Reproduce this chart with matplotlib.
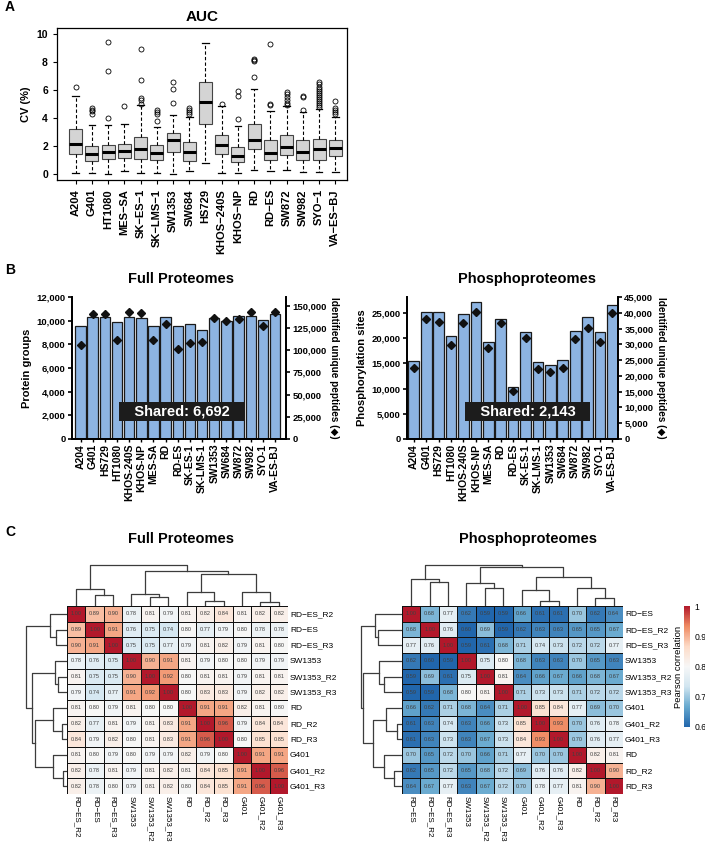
import matplotlib
matplotlib.use("Agg")
import matplotlib.pyplot as plt
import numpy as np
from matplotlib.colors import LinearSegmentedColormap
from matplotlib.ticker import FuncFormatter

plt.rcParams["font.family"] = ["Liberation Sans", "DejaVu Sans"]

W, H = 705, 842

# ---------------- panel A: CV of AUC per cell line (box stats)
auc_lines = ["A204", "G401", "HT1080", "MES−SA", "SK−ES−1", "SK−LMS−1", "SW1353",
             "SW684", "HS729", "KHOS−240S", "KHOS−NP", "RD", "RD−ES", "SW872",
             "SW982", "SYO−1", "VA−ES−BJ"]
auc_q1 = [1.45, 0.9, 1.05, 1.15, 1.1, 1.0, 1.55, 0.95, 3.6, 1.4, 0.85, 1.75, 1.0, 1.35, 1.0, 1.0, 1.25]
auc_med = [2.15, 1.45, 1.55, 1.65, 1.75, 1.5, 2.45, 1.6, 5.15, 2.1, 1.3, 2.45, 1.5, 1.95, 1.6, 1.8, 1.85]
auc_q3 = [3.2, 2.0, 2.1, 2.15, 2.65, 2.1, 2.9, 2.25, 6.55, 2.8, 1.95, 3.55, 2.45, 2.8, 2.4, 2.5, 2.45]
auc_lo = [0.1, 0.1, 0.0, 0.2, 0.1, 0.1, 0.0, 0.2, 0.75, 0.1, 0.1, 0.3, 0.2, 0.3, 0.15, 0.15, 0.15]
auc_hi = [5.6, 3.5, 3.5, 3.6, 4.95, 3.35, 4.2, 4.1, 9.35, 4.85, 3.45, 6.05, 4.5, 4.85, 4.4, 4.65, 4.1]
auc_fliers = [
    [6.2],
    [4.3, 4.5, 4.6, 4.7],
    [4.0, 7.35, 9.45],
    [4.85],
    [5.0, 5.3, 5.45, 6.7, 8.9],
    [3.75, 4.3, 4.45, 4.55],
    [5.1, 6.05, 6.55],
    [4.3, 4.45, 4.6, 4.7],
    [],
    [5.0],
    [3.9, 5.55, 5.9],
    [6.9, 8.05, 8.15, 8.2],
    [4.9, 5.0, 9.3],
    [4.95, 5.1, 5.3, 5.5, 5.7, 5.85],
    [4.6, 5.5, 5.6],
    [4.75, 4.9, 5.05, 5.2, 5.35, 5.5, 5.65, 5.8, 5.95, 6.1, 6.25, 6.4, 6.55],
    [4.25, 4.4, 4.55, 4.7, 5.25],
]

# ---------------- panel B: identifications
ms_lines = ["A204", "G401", "HS729", "HT1080", "KHOS-240S", "KHOS-NP", "MES-SA", "RD",
            "RD-ES", "SK-ES-1", "SK-LMS-1", "SW1353", "SW684", "SW872", "SW982",
            "SYO-1", "VA-ES-BJ"]
full_groups = [9570, 10300, 10300, 9900, 10300, 10250, 9570, 10300, 9540, 9680, 9250,
               10190, 9990, 10390, 10390, 10020, 10530]
full_peptides = [105900, 140600, 140600, 111600, 143600, 141700, 111600, 129300, 101400,
                 108600, 109700, 136100, 133400, 135000, 143600, 127400, 142900]
phos_sites = [15480, 25200, 25070, 20370, 24670, 27100, 19250, 23800, 10300, 21100, 15340,
              14680, 15740, 21430, 24200, 21230, 26590]
phos_peptides = [22600, 37900, 37200, 29900, 36900, 40200, 28800, 36900, 15100, 32100,
                 22300, 21300, 22400, 31600, 35200, 30800, 39800]
full_shared = 6692
phos_shared = 2143

# ---------------- panel C: Pearson correlation matrices (display order)
full_samples = ["RD−ES_R2", "RD−ES", "RD−ES_R3", "SW1353", "SW1353_R2", "SW1353_R3",
                "RD", "RD_R2", "RD_R3", "G401", "G401_R2", "G401_R3"]
full_corr = [
    [1.00, 0.89, 0.90, 0.78, 0.81, 0.79, 0.81, 0.82, 0.84, 0.81, 0.82, 0.82],
    [0.89, 1.00, 0.91, 0.76, 0.75, 0.74, 0.80, 0.77, 0.79, 0.80, 0.78, 0.78],
    [0.90, 0.91, 1.00, 0.75, 0.75, 0.77, 0.79, 0.81, 0.82, 0.79, 0.81, 0.80],
    [0.78, 0.76, 0.75, 1.00, 0.90, 0.91, 0.81, 0.79, 0.80, 0.80, 0.79, 0.79],
    [0.81, 0.75, 0.75, 0.90, 1.00, 0.92, 0.80, 0.81, 0.81, 0.79, 0.81, 0.81],
    [0.79, 0.74, 0.77, 0.91, 0.92, 1.00, 0.80, 0.83, 0.83, 0.79, 0.82, 0.82],
    [0.81, 0.80, 0.79, 0.81, 0.80, 0.80, 1.00, 0.91, 0.91, 0.82, 0.81, 0.80],
    [0.82, 0.77, 0.81, 0.79, 0.81, 0.83, 0.91, 1.00, 0.96, 0.79, 0.84, 0.84],
    [0.84, 0.79, 0.82, 0.80, 0.81, 0.83, 0.91, 0.96, 1.00, 0.80, 0.85, 0.85],
    [0.81, 0.80, 0.79, 0.80, 0.79, 0.79, 0.82, 0.79, 0.80, 1.00, 0.91, 0.91],
    [0.82, 0.78, 0.81, 0.79, 0.81, 0.82, 0.81, 0.84, 0.85, 0.91, 1.00, 0.96],
    [0.82, 0.78, 0.80, 0.79, 0.81, 0.82, 0.80, 0.84, 0.85, 0.91, 0.96, 1.00],
]
# tree as (left, right, merge height); leaves are display positions
full_tree = (((0, (1, 2, 10.8), 16.8),
              ((3, (4, 5, 9.4), 11.8),
               ((6, (7, 8, 5.0), 14.1), (9, (10, 11, 4.0), 14.1), 32.0), 35.3), 41.0))

phos_samples = ["RD−ES", "RD−ES_R2", "RD−ES_R3", "SW1353", "SW1353_R2", "SW1353_R3",
                "G401", "G401_R2", "G401_R3", "RD", "RD_R2", "RD_R3"]
phos_corr = [
    [1.00, 0.68, 0.77, 0.62, 0.59, 0.59, 0.66, 0.61, 0.61, 0.70, 0.62, 0.64],
    [0.68, 1.00, 0.76, 0.60, 0.69, 0.59, 0.62, 0.63, 0.63, 0.65, 0.65, 0.67],
    [0.77, 0.76, 1.00, 0.59, 0.61, 0.68, 0.71, 0.74, 0.73, 0.72, 0.72, 0.77],
    [0.62, 0.60, 0.59, 1.00, 0.75, 0.80, 0.68, 0.63, 0.63, 0.70, 0.65, 0.63],
    [0.59, 0.69, 0.61, 0.75, 1.00, 0.81, 0.64, 0.66, 0.67, 0.66, 0.68, 0.67],
    [0.59, 0.59, 0.68, 0.80, 0.81, 1.00, 0.71, 0.73, 0.73, 0.71, 0.72, 0.72],
    [0.66, 0.62, 0.71, 0.68, 0.64, 0.71, 1.00, 0.85, 0.84, 0.77, 0.69, 0.70],
    [0.61, 0.63, 0.74, 0.63, 0.66, 0.73, 0.85, 1.00, 0.93, 0.70, 0.76, 0.78],
    [0.61, 0.63, 0.73, 0.63, 0.67, 0.73, 0.84, 0.93, 1.00, 0.70, 0.76, 0.77],
    [0.70, 0.65, 0.72, 0.70, 0.66, 0.71, 0.77, 0.70, 0.70, 1.00, 0.82, 0.81],
    [0.62, 0.65, 0.72, 0.65, 0.68, 0.72, 0.69, 0.76, 0.76, 0.82, 1.00, 0.90],
    [0.64, 0.67, 0.77, 0.63, 0.67, 0.72, 0.70, 0.78, 0.77, 0.81, 0.90, 1.00],
]
phos_tree = (((0, (1, 2, 24.2), 26.9),
              ((3, (4, 5, 18.5), 22.9),
               ((6, (7, 8, 5.0), 16.1), (9, (10, 11, 7.7), 17.8), 28.6), 38.6), 41.0))

# RColorBrewer RdBu (7 classes), reversed
corr_cmap = LinearSegmentedColormap.from_list(
    "rdbu7", ["#2166AC", "#67A9CF", "#D1E5F0", "#F7F7F7", "#FDDBC7", "#EF8A62", "#B2182B"])


def rect(x0, y0, x1, y1):
    """pixel box (top-left origin) -> figure fraction rect"""
    return [x0 / W, 1 - y1 / H, (x1 - x0) / W, (y1 - y0) / H]


def dendro_segments(node):
    if isinstance(node, int):
        return node, 0.0, []
    left, right, h = node
    xl, hl, sl = dendro_segments(left)
    xr, hr, sr = dendro_segments(right)
    seg = [(xl, hl), (xl, h), (xr, h), (xr, hr)]
    return (xl + xr) / 2, h, sl + sr + [seg]


def draw_dendro(ax, tree, orient):
    _, top, segs = dendro_segments(tree)
    for seg in segs:
        xs, ys = zip(*seg)
        if orient == "top":
            ax.plot(xs, ys, color="#3c3c3c", lw=0.9)
        else:
            ax.plot(ys, xs, color="#3c3c3c", lw=0.9)
    if orient == "top":
        ax.set_xlim(-0.5, 11.5)
        ax.set_ylim(0, top + 1)
    else:
        ax.set_ylim(11.5, -0.5)
        ax.set_xlim(top + 1, 0)
    ax.axis("off")


def draw_heatmap(ax, corr, samples):
    data = np.array(corr)
    n = len(samples)
    edges = np.arange(n + 1) - 0.5
    mesh = ax.pcolormesh(edges, edges, data, cmap=corr_cmap, vmin=0.6, vmax=1.0,
                         edgecolors="#111111", linewidth=0.7)
    for i in range(n):
        for j in range(n):
            ax.text(j, i, f"{data[i, j]:.2f}", ha="center", va="center",
                    fontsize=4.1, color="#404040")
    ax.set_xlim(-0.5, n - 0.5)
    ax.set_ylim(n - 0.5, -0.5)
    ax.set_xticks(range(n))
    ax.set_xticklabels(samples, rotation=-90, fontsize=5.8)
    ax.set_yticks(range(n))
    ax.set_yticklabels(samples, fontsize=6)
    ax.yaxis.tick_right()
    ax.tick_params(length=0, pad=1.5)
    for s in ax.spines.values():
        s.set_visible(False)
    return mesh


fig = plt.figure(figsize=(W / 100, H / 100), dpi=100)

# ---------------- A
ax = fig.add_axes(rect(57, 28, 347, 180))
stats = []
for i in range(len(auc_lines)):
    stats.append(dict(med=auc_med[i], q1=auc_q1[i], q3=auc_q3[i],
                      whislo=auc_lo[i], whishi=auc_hi[i], fliers=auc_fliers[i]))
ax.bxp(stats, positions=range(1, len(auc_lines) + 1), widths=0.8, patch_artist=True,
       capwidths=0.4,
       boxprops=dict(facecolor="#d4d4d4", edgecolor="#444444", lw=0.8),
       medianprops=dict(color="black", lw=2.2, solid_capstyle="butt"),
       whiskerprops=dict(color="black", ls=(0, (3, 2)), lw=0.8),
       capprops=dict(color="black", lw=0.9),
       flierprops=dict(marker="o", mfc="none", mec="black", ms=3.6, mew=0.6))
ax.set_xlim(-0.15, 17.72)
ax.set_ylim(-0.43, 10.43)
ax.set_yticks([0, 2, 4, 6, 8, 10])
ax.set_xticks(range(1, len(auc_lines) + 1))
ax.set_xticklabels(auc_lines, rotation=90, fontsize=8, fontweight="bold")
for lab in ax.get_yticklabels():
    lab.set_fontsize(7.5)
    lab.set_fontweight("bold")
ax.tick_params(length=3, width=0.8)
ax.set_ylabel("CV (%)", fontsize=8, fontweight="bold", labelpad=4)
for s in ax.spines.values():
    s.set_linewidth(0.9)
fig.text(202 / W, 1 - 17 / H, "AUC", ha="center", va="center", fontsize=11, fontweight="bold")

# ---------------- B
comma = FuncFormatter(lambda v, p: f"{int(v):,}")


def id_panel(box, counts, peptides, ylim, y2lim, yticks, y2ticks, xlim, ylabel, shared, sx, sy):
    ax = fig.add_axes(rect(*box))
    x = np.arange(len(ms_lines))
    ax.bar(x, counts, width=0.86, color="#8db4e2", edgecolor="#1a1a1a", lw=0.9, zorder=2)
    ax.set_xlim(*xlim)
    ax.set_ylim(*ylim)
    ax.set_yticks(yticks)
    ax.yaxis.set_major_formatter(comma)
    ax.set_xticks(x)
    ax.set_xticklabels(ms_lines, rotation=90, fontsize=7.5, fontweight="bold")
    ax.set_ylabel(ylabel, fontsize=8, fontweight="bold", labelpad=3)
    ax2 = ax.twinx()
    ax2.plot(x, peptides, "D", color="#111111", ms=4, zorder=3)
    ax2.set_ylim(*y2lim)
    ax2.set_yticks(y2ticks)
    ax2.yaxis.set_major_formatter(comma)
    ax2.set_ylabel("Identified unique peptides (◆)", rotation=-90, fontsize=7.2,
                   fontweight="bold", labelpad=9)
    for a in (ax, ax2):
        a.spines["top"].set_visible(False)
        for s in ("left", "right", "bottom"):
            a.spines[s].set_linewidth(1.3)
        a.tick_params(axis="y", length=3, width=1.2, labelsize=6.8, pad=1.5)
        for lab in a.get_yticklabels():
            lab.set_fontweight("bold")
    ax.tick_params(axis="x", length=2, width=1, pad=1.5)
    ax.text(sx, sy, f"   Shared: {shared:,}   ", ha="center", va="center", color="white",
            fontsize=10.5, fontweight="bold", zorder=5,
            bbox=dict(facecolor="#1c1c1c", edgecolor="none", boxstyle="square,pad=0.18"))


id_panel((72, 297, 286, 439), full_groups, full_peptides, (0, 12000), (0, 160000),
         range(0, 12001, 2000), range(0, 150001, 25000), (-0.7, 16.9),
         "Protein groups", full_shared, 8.34, 2350)
id_panel((407, 297, 618, 439), phos_sites, phos_peptides, (0, 28125), (0, 45000),
         range(0, 25001, 5000), range(0, 45001, 5000), (-0.55, 16.45),
         "Phosphorylation sites", phos_shared, 9.18, 5490)
fig.text(181 / W, 1 - 279 / H, "Full Proteomes", ha="center", va="center", fontsize=10.5, fontweight="bold")
fig.text(527 / W, 1 - 279 / H, "Phosphoproteomes", ha="center", va="center", fontsize=10.5, fontweight="bold")

# ---------------- C
hm1 = fig.add_axes(rect(67, 606, 288, 794))
draw_heatmap(hm1, full_corr, full_samples)
draw_dendro(fig.add_axes(rect(67, 564, 288, 606)), full_tree, "top")
draw_dendro(fig.add_axes(rect(25, 606, 67, 794)), full_tree, "left")

hm2 = fig.add_axes(rect(402, 606, 623, 794))
mesh = draw_heatmap(hm2, phos_corr, phos_samples)
draw_dendro(fig.add_axes(rect(402, 564, 623, 606)), phos_tree, "top")
draw_dendro(fig.add_axes(rect(360, 606, 402, 794)), phos_tree, "left")

cax = fig.add_axes(rect(684, 606, 690, 727))
cb = fig.colorbar(mesh, cax=cax, ticks=[0.6, 0.7, 0.8, 0.9, 1.0])
cb.ax.set_yticklabels(["0.6", "0.7", "0.8", "0.9", "1"], fontsize=6.2)
cb.outline.set_visible(False)
cb.ax.tick_params(length=0, pad=3)
cb.ax.yaxis.set_label_position("left")
cb.set_label("Pearson correlation", fontsize=6.8, labelpad=1)

fig.text(181 / W, 1 - 539 / H, "Full Proteomes", ha="center", va="center", fontsize=10.5, fontweight="bold")
fig.text(528 / W, 1 - 539 / H, "Phosphoproteomes", ha="center", va="center", fontsize=10.5, fontweight="bold")

# panel letters
for letter, y in (("A", 7), ("B", 270), ("C", 532)):
    fig.text(5 / W, 1 - y / H, letter, ha="left", va="center", fontsize=10, fontweight="bold")

fig.savefig("out.png", dpi=100)
